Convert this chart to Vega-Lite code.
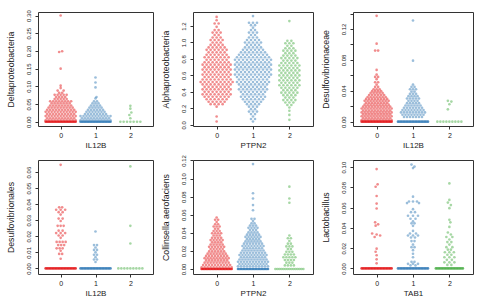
{
  "$schema": "https://vega.github.io/schema/vega-lite/v6.json",
  "padding": {"left": 5, "top": 9, "right": 2, "bottom": 0},
  "background": "white",
  "columns": 3,
  "spacing": {"row": 34, "column": 40},
  "bounds": "flush",
  "config": {
    "font": "Liberation Sans",
    "view": {"stroke": "#333333", "strokeWidth": 1},
    "circle": {"size": 7},
    "axis": {"domain": false, "grid": false, "tickColor": "#333333", "tickSize": 3, "tickWidth": 1, "labelColor": "#222222", "titleColor": "#222222", "labelFont": "Liberation Sans", "titleFont": "Liberation Sans", "titleFontWeight": "normal", "labelFlush": false, "labelOverlap": false},
    "axisX": {"labelFontSize": 7, "titleFontSize": 8, "labelPadding": 2, "titlePadding": 3, "labelAngle": 0},
    "axisY": {"labelFontSize": 6, "titleFontSize": 8.7, "labelAngle": 270, "labelAlign": "center", "labelBaseline": "bottom", "labelPadding": 4, "titlePadding": 10}
  },
  "datasets": {
    "p1": [
      {"g":0,"y":0,"d":-15},{"g":0,"y":0,"d":-13.5},{"g":0,"y":0,"d":-12},{"g":0,"y":0,"d":-10.5},{"g":0,"y":0,"d":-9},{"g":0,"y":0,"d":-7.5},{"g":0,"y":0,"d":-6},{"g":0,"y":0,"d":-4.5},{"g":0,"y":0,"d":-3},{"g":0,"y":0,"d":-1.5},{"g":0,"y":0,"d":0},{"g":0,"y":0,"d":1.5},{"g":0,"y":0,"d":3},{"g":0,"y":0,"d":4.5},{"g":0,"y":0,"d":6},{"g":0,"y":0,"d":7.5},{"g":0,"y":0,"d":9},{"g":0,"y":0,"d":10.5},{"g":0,"y":0,"d":12},{"g":0,"y":0,"d":13.5},{"g":0,"y":0,"d":15},
      {"g":0,"y":0.004,"d":-15},{"g":0,"y":0.004,"d":-12},{"g":0,"y":0.004,"d":-9},{"g":0,"y":0.004,"d":-6},{"g":0,"y":0.004,"d":-3},{"g":0,"y":0.004,"d":0},{"g":0,"y":0.004,"d":3},{"g":0,"y":0.004,"d":6},{"g":0,"y":0.004,"d":9},{"g":0,"y":0.004,"d":12},{"g":0,"y":0.004,"d":15},
      {"g":0,"y":0.01,"d":-13.5},{"g":0,"y":0.01,"d":-10.5},{"g":0,"y":0.01,"d":-7.5},{"g":0,"y":0.01,"d":-4.5},{"g":0,"y":0.01,"d":-1.5},{"g":0,"y":0.01,"d":1.5},{"g":0,"y":0.01,"d":4.5},{"g":0,"y":0.01,"d":7.5},{"g":0,"y":0.01,"d":10.5},{"g":0,"y":0.01,"d":13.5},
      {"g":0,"y":0.016,"d":-15},{"g":0,"y":0.016,"d":-12},{"g":0,"y":0.016,"d":-9},{"g":0,"y":0.016,"d":-6},{"g":0,"y":0.016,"d":-3},{"g":0,"y":0.016,"d":0},{"g":0,"y":0.016,"d":3},{"g":0,"y":0.016,"d":6},{"g":0,"y":0.016,"d":9},{"g":0,"y":0.016,"d":12},{"g":0,"y":0.016,"d":15},
      {"g":0,"y":0.022,"d":-13.5},{"g":0,"y":0.022,"d":-10.5},{"g":0,"y":0.022,"d":-7.5},{"g":0,"y":0.022,"d":-4.5},{"g":0,"y":0.022,"d":-1.5},{"g":0,"y":0.022,"d":1.5},{"g":0,"y":0.022,"d":4.5},{"g":0,"y":0.022,"d":7.5},{"g":0,"y":0.022,"d":10.5},{"g":0,"y":0.022,"d":13.5},
      {"g":0,"y":0.028,"d":-15},{"g":0,"y":0.028,"d":-12},{"g":0,"y":0.028,"d":-9},{"g":0,"y":0.028,"d":-6},{"g":0,"y":0.028,"d":-3},{"g":0,"y":0.028,"d":0},{"g":0,"y":0.028,"d":3},{"g":0,"y":0.028,"d":6},{"g":0,"y":0.028,"d":9},{"g":0,"y":0.028,"d":12},{"g":0,"y":0.028,"d":15},
      {"g":0,"y":0.034,"d":-13.5},{"g":0,"y":0.034,"d":-10.5},{"g":0,"y":0.034,"d":-7.5},{"g":0,"y":0.034,"d":-4.5},{"g":0,"y":0.034,"d":-1.5},{"g":0,"y":0.034,"d":1.5},{"g":0,"y":0.034,"d":4.5},{"g":0,"y":0.034,"d":7.5},{"g":0,"y":0.034,"d":10.5},{"g":0,"y":0.034,"d":13.5},
      {"g":0,"y":0.04,"d":-12},{"g":0,"y":0.04,"d":-9},{"g":0,"y":0.04,"d":-6},{"g":0,"y":0.04,"d":-3},{"g":0,"y":0.04,"d":0},{"g":0,"y":0.04,"d":3},{"g":0,"y":0.04,"d":6},{"g":0,"y":0.04,"d":9},{"g":0,"y":0.04,"d":12},
      {"g":0,"y":0.046,"d":-10.5},{"g":0,"y":0.046,"d":-7.5},{"g":0,"y":0.046,"d":-4.5},{"g":0,"y":0.046,"d":-1.5},{"g":0,"y":0.046,"d":1.5},{"g":0,"y":0.046,"d":4.5},{"g":0,"y":0.046,"d":7.5},{"g":0,"y":0.046,"d":10.5},
      {"g":0,"y":0.052,"d":-9},{"g":0,"y":0.052,"d":-6},{"g":0,"y":0.052,"d":-3},{"g":0,"y":0.052,"d":0},{"g":0,"y":0.052,"d":3},{"g":0,"y":0.052,"d":6},{"g":0,"y":0.052,"d":9},
      {"g":0,"y":0.058,"d":-10.5},{"g":0,"y":0.058,"d":-7.5},{"g":0,"y":0.058,"d":-4.5},{"g":0,"y":0.058,"d":-1.5},{"g":0,"y":0.058,"d":1.5},{"g":0,"y":0.058,"d":4.5},{"g":0,"y":0.058,"d":7.5},{"g":0,"y":0.058,"d":10.5},
      {"g":0,"y":0.064,"d":-6},{"g":0,"y":0.064,"d":-3},{"g":0,"y":0.064,"d":0},{"g":0,"y":0.064,"d":3},{"g":0,"y":0.064,"d":6},
      {"g":0,"y":0.07,"d":-4.5},{"g":0,"y":0.07,"d":-1.5},{"g":0,"y":0.07,"d":1.5},{"g":0,"y":0.07,"d":4.5},
      {"g":0,"y":0.076,"d":-6},{"g":0,"y":0.076,"d":-3},{"g":0,"y":0.076,"d":0},{"g":0,"y":0.076,"d":3},{"g":0,"y":0.076,"d":6},
      {"g":0,"y":0.082,"d":-1.5},{"g":0,"y":0.082,"d":1.5},
      {"g":0,"y":0.088,"d":-3},{"g":0,"y":0.088,"d":3},
      {"g":0,"y":0.095,"d":0},{"g":0,"y":0.102,"d":0},{"g":0,"y":0.15,"d":0},{"g":0,"y":0.197,"d":-1.5},{"g":0,"y":0.199,"d":1.5},{"g":0,"y":0.3,"d":0},
      {"g":1,"y":0,"d":-15},{"g":1,"y":0,"d":-13.5},{"g":1,"y":0,"d":-12},{"g":1,"y":0,"d":-10.5},{"g":1,"y":0,"d":-9},{"g":1,"y":0,"d":-7.5},{"g":1,"y":0,"d":-6},{"g":1,"y":0,"d":-4.5},{"g":1,"y":0,"d":-3},{"g":1,"y":0,"d":-1.5},{"g":1,"y":0,"d":0},{"g":1,"y":0,"d":1.5},{"g":1,"y":0,"d":3},{"g":1,"y":0,"d":4.5},{"g":1,"y":0,"d":6},{"g":1,"y":0,"d":7.5},{"g":1,"y":0,"d":9},{"g":1,"y":0,"d":10.5},{"g":1,"y":0,"d":12},{"g":1,"y":0,"d":13.5},{"g":1,"y":0,"d":15},
      {"g":1,"y":0.004,"d":-15},{"g":1,"y":0.004,"d":-12},{"g":1,"y":0.004,"d":-9},{"g":1,"y":0.004,"d":-6},{"g":1,"y":0.004,"d":-3},{"g":1,"y":0.004,"d":0},{"g":1,"y":0.004,"d":3},{"g":1,"y":0.004,"d":6},{"g":1,"y":0.004,"d":9},{"g":1,"y":0.004,"d":12},{"g":1,"y":0.004,"d":15},
      {"g":1,"y":0.01,"d":-13.5},{"g":1,"y":0.01,"d":-10.5},{"g":1,"y":0.01,"d":-7.5},{"g":1,"y":0.01,"d":-4.5},{"g":1,"y":0.01,"d":-1.5},{"g":1,"y":0.01,"d":1.5},{"g":1,"y":0.01,"d":4.5},{"g":1,"y":0.01,"d":7.5},{"g":1,"y":0.01,"d":10.5},{"g":1,"y":0.01,"d":13.5},
      {"g":1,"y":0.016,"d":-15},{"g":1,"y":0.016,"d":-12},{"g":1,"y":0.016,"d":-9},{"g":1,"y":0.016,"d":-6},{"g":1,"y":0.016,"d":-3},{"g":1,"y":0.016,"d":0},{"g":1,"y":0.016,"d":3},{"g":1,"y":0.016,"d":6},{"g":1,"y":0.016,"d":9},{"g":1,"y":0.016,"d":12},{"g":1,"y":0.016,"d":15},
      {"g":1,"y":0.022,"d":-10.5},{"g":1,"y":0.022,"d":-7.5},{"g":1,"y":0.022,"d":-4.5},{"g":1,"y":0.022,"d":-1.5},{"g":1,"y":0.022,"d":1.5},{"g":1,"y":0.022,"d":4.5},{"g":1,"y":0.022,"d":7.5},{"g":1,"y":0.022,"d":10.5},
      {"g":1,"y":0.028,"d":-9},{"g":1,"y":0.028,"d":-6},{"g":1,"y":0.028,"d":-3},{"g":1,"y":0.028,"d":0},{"g":1,"y":0.028,"d":3},{"g":1,"y":0.028,"d":6},{"g":1,"y":0.028,"d":9},
      {"g":1,"y":0.034,"d":-7.5},{"g":1,"y":0.034,"d":-4.5},{"g":1,"y":0.034,"d":-1.5},{"g":1,"y":0.034,"d":1.5},{"g":1,"y":0.034,"d":4.5},{"g":1,"y":0.034,"d":7.5},
      {"g":1,"y":0.04,"d":-6},{"g":1,"y":0.04,"d":-3},{"g":1,"y":0.04,"d":0},{"g":1,"y":0.04,"d":3},{"g":1,"y":0.04,"d":6},
      {"g":1,"y":0.046,"d":-4.5},{"g":1,"y":0.046,"d":-1.5},{"g":1,"y":0.046,"d":1.5},{"g":1,"y":0.046,"d":4.5},
      {"g":1,"y":0.052,"d":-3},{"g":1,"y":0.052,"d":0},{"g":1,"y":0.052,"d":3},
      {"g":1,"y":0.058,"d":-1.5},{"g":1,"y":0.058,"d":1.5},
      {"g":1,"y":0.066,"d":0},{"g":1,"y":0.07,"d":1},{"g":1,"y":0.097,"d":0},{"g":1,"y":0.111,"d":0},{"g":1,"y":0.125,"d":0},
      {"g":2,"y":0,"d":-10},{"g":2,"y":0,"d":-6.7},{"g":2,"y":0,"d":-3.3},{"g":2,"y":0,"d":0},{"g":2,"y":0,"d":3.3},{"g":2,"y":0,"d":6.7},{"g":2,"y":0,"d":10},
      {"g":2,"y":0.01,"d":0},{"g":2,"y":0.019,"d":-1},{"g":2,"y":0.026,"d":1},{"g":2,"y":0.037,"d":0},{"g":2,"y":0.045,"d":0}
    ],
    "p2": [
      {"g":0,"y":1.31,"d":0},{"g":0,"y":1.27,"d":0},
      {"g":0,"y":1.23,"d":-2},{"g":0,"y":1.23,"d":2},
      {"g":0,"y":1.19,"d":0},
      {"g":0,"y":1.15,"d":-2},{"g":0,"y":1.15,"d":2},
      {"g":0,"y":1.12,"d":-4},{"g":0,"y":1.12,"d":0},{"g":0,"y":1.12,"d":4},
      {"g":0,"y":1.09,"d":-2},{"g":0,"y":1.09,"d":2},
      {"g":0,"y":1.06,"d":-4},{"g":0,"y":1.06,"d":0},{"g":0,"y":1.06,"d":4},
      {"g":0,"y":1.03,"d":-6},{"g":0,"y":1.03,"d":-2},{"g":0,"y":1.03,"d":2},{"g":0,"y":1.03,"d":6},
      {"g":0,"y":1.0,"d":-4},{"g":0,"y":1.0,"d":0},{"g":0,"y":1.0,"d":4},
      {"g":0,"y":0.97,"d":-6},{"g":0,"y":0.97,"d":-2},{"g":0,"y":0.97,"d":2},{"g":0,"y":0.97,"d":6},
      {"g":0,"y":0.94,"d":-8},{"g":0,"y":0.94,"d":-4},{"g":0,"y":0.94,"d":0},{"g":0,"y":0.94,"d":4},{"g":0,"y":0.94,"d":8},
      {"g":0,"y":0.91,"d":-10},{"g":0,"y":0.91,"d":-6},{"g":0,"y":0.91,"d":-2},{"g":0,"y":0.91,"d":2},{"g":0,"y":0.91,"d":6},{"g":0,"y":0.91,"d":10},
      {"g":0,"y":0.88,"d":-8},{"g":0,"y":0.88,"d":-4},{"g":0,"y":0.88,"d":0},{"g":0,"y":0.88,"d":4},{"g":0,"y":0.88,"d":8},
      {"g":0,"y":0.85,"d":-10},{"g":0,"y":0.85,"d":-6},{"g":0,"y":0.85,"d":-2},{"g":0,"y":0.85,"d":2},{"g":0,"y":0.85,"d":6},{"g":0,"y":0.85,"d":10},
      {"g":0,"y":0.82,"d":-12},{"g":0,"y":0.82,"d":-8},{"g":0,"y":0.82,"d":-4},{"g":0,"y":0.82,"d":0},{"g":0,"y":0.82,"d":4},{"g":0,"y":0.82,"d":8},{"g":0,"y":0.82,"d":12},
      {"g":0,"y":0.79,"d":-10},{"g":0,"y":0.79,"d":-6},{"g":0,"y":0.79,"d":-2},{"g":0,"y":0.79,"d":2},{"g":0,"y":0.79,"d":6},{"g":0,"y":0.79,"d":10},
      {"g":0,"y":0.76,"d":-12},{"g":0,"y":0.76,"d":-8},{"g":0,"y":0.76,"d":-4},{"g":0,"y":0.76,"d":0},{"g":0,"y":0.76,"d":4},{"g":0,"y":0.76,"d":8},{"g":0,"y":0.76,"d":12},
      {"g":0,"y":0.73,"d":-14},{"g":0,"y":0.73,"d":-10},{"g":0,"y":0.73,"d":-6},{"g":0,"y":0.73,"d":-2},{"g":0,"y":0.73,"d":2},{"g":0,"y":0.73,"d":6},{"g":0,"y":0.73,"d":10},{"g":0,"y":0.73,"d":14},
      {"g":0,"y":0.7,"d":-12},{"g":0,"y":0.7,"d":-8},{"g":0,"y":0.7,"d":-4},{"g":0,"y":0.7,"d":0},{"g":0,"y":0.7,"d":4},{"g":0,"y":0.7,"d":8},{"g":0,"y":0.7,"d":12},
      {"g":0,"y":0.67,"d":-14},{"g":0,"y":0.67,"d":-10},{"g":0,"y":0.67,"d":-6},{"g":0,"y":0.67,"d":-2},{"g":0,"y":0.67,"d":2},{"g":0,"y":0.67,"d":6},{"g":0,"y":0.67,"d":10},{"g":0,"y":0.67,"d":14},
      {"g":0,"y":0.64,"d":-12},{"g":0,"y":0.64,"d":-8},{"g":0,"y":0.64,"d":-4},{"g":0,"y":0.64,"d":0},{"g":0,"y":0.64,"d":4},{"g":0,"y":0.64,"d":8},{"g":0,"y":0.64,"d":12},
      {"g":0,"y":0.61,"d":-14},{"g":0,"y":0.61,"d":-10},{"g":0,"y":0.61,"d":-6},{"g":0,"y":0.61,"d":-2},{"g":0,"y":0.61,"d":2},{"g":0,"y":0.61,"d":6},{"g":0,"y":0.61,"d":10},{"g":0,"y":0.61,"d":14},
      {"g":0,"y":0.58,"d":-12},{"g":0,"y":0.58,"d":-8},{"g":0,"y":0.58,"d":-4},{"g":0,"y":0.58,"d":0},{"g":0,"y":0.58,"d":4},{"g":0,"y":0.58,"d":8},{"g":0,"y":0.58,"d":12},
      {"g":0,"y":0.55,"d":-14},{"g":0,"y":0.55,"d":-10},{"g":0,"y":0.55,"d":-6},{"g":0,"y":0.55,"d":-2},{"g":0,"y":0.55,"d":2},{"g":0,"y":0.55,"d":6},{"g":0,"y":0.55,"d":10},{"g":0,"y":0.55,"d":14},
      {"g":0,"y":0.52,"d":-16},{"g":0,"y":0.52,"d":-12},{"g":0,"y":0.52,"d":-8},{"g":0,"y":0.52,"d":-4},{"g":0,"y":0.52,"d":0},{"g":0,"y":0.52,"d":4},{"g":0,"y":0.52,"d":8},{"g":0,"y":0.52,"d":12},{"g":0,"y":0.52,"d":16},
      {"g":0,"y":0.49,"d":-14},{"g":0,"y":0.49,"d":-10},{"g":0,"y":0.49,"d":-6},{"g":0,"y":0.49,"d":-2},{"g":0,"y":0.49,"d":2},{"g":0,"y":0.49,"d":6},{"g":0,"y":0.49,"d":10},{"g":0,"y":0.49,"d":14},
      {"g":0,"y":0.46,"d":-12},{"g":0,"y":0.46,"d":-8},{"g":0,"y":0.46,"d":-4},{"g":0,"y":0.46,"d":0},{"g":0,"y":0.46,"d":4},{"g":0,"y":0.46,"d":8},{"g":0,"y":0.46,"d":12},
      {"g":0,"y":0.43,"d":-14},{"g":0,"y":0.43,"d":-10},{"g":0,"y":0.43,"d":-6},{"g":0,"y":0.43,"d":-2},{"g":0,"y":0.43,"d":2},{"g":0,"y":0.43,"d":6},{"g":0,"y":0.43,"d":10},{"g":0,"y":0.43,"d":14},
      {"g":0,"y":0.4,"d":-12},{"g":0,"y":0.4,"d":-8},{"g":0,"y":0.4,"d":-4},{"g":0,"y":0.4,"d":0},{"g":0,"y":0.4,"d":4},{"g":0,"y":0.4,"d":8},{"g":0,"y":0.4,"d":12},
      {"g":0,"y":0.37,"d":-14},{"g":0,"y":0.37,"d":-10},{"g":0,"y":0.37,"d":-6},{"g":0,"y":0.37,"d":-2},{"g":0,"y":0.37,"d":2},{"g":0,"y":0.37,"d":6},{"g":0,"y":0.37,"d":10},{"g":0,"y":0.37,"d":14},
      {"g":0,"y":0.34,"d":-12},{"g":0,"y":0.34,"d":-8},{"g":0,"y":0.34,"d":-4},{"g":0,"y":0.34,"d":0},{"g":0,"y":0.34,"d":4},{"g":0,"y":0.34,"d":8},{"g":0,"y":0.34,"d":12},
      {"g":0,"y":0.31,"d":-10},{"g":0,"y":0.31,"d":-6},{"g":0,"y":0.31,"d":-2},{"g":0,"y":0.31,"d":2},{"g":0,"y":0.31,"d":6},{"g":0,"y":0.31,"d":10},
      {"g":0,"y":0.28,"d":-8},{"g":0,"y":0.28,"d":-4},{"g":0,"y":0.28,"d":0},{"g":0,"y":0.28,"d":4},{"g":0,"y":0.28,"d":8},
      {"g":0,"y":0.25,"d":-6},{"g":0,"y":0.25,"d":-2},{"g":0,"y":0.25,"d":2},{"g":0,"y":0.25,"d":6},
      {"g":0,"y":0.22,"d":0},{"g":0,"y":0.1,"d":0},{"g":0,"y":0.04,"d":0},
      {"g":1,"y":1.32,"d":0},
      {"g":1,"y":1.24,"d":-4},{"g":1,"y":1.24,"d":0},{"g":1,"y":1.24,"d":4},
      {"g":1,"y":1.21,"d":-2},{"g":1,"y":1.21,"d":2},
      {"g":1,"y":1.18,"d":0},
      {"g":1,"y":1.15,"d":-2},{"g":1,"y":1.15,"d":2},
      {"g":1,"y":1.12,"d":-4},{"g":1,"y":1.12,"d":0},{"g":1,"y":1.12,"d":4},
      {"g":1,"y":1.09,"d":-2},{"g":1,"y":1.09,"d":2},
      {"g":1,"y":1.06,"d":-4},{"g":1,"y":1.06,"d":0},{"g":1,"y":1.06,"d":4},
      {"g":1,"y":1.03,"d":-6},{"g":1,"y":1.03,"d":-2},{"g":1,"y":1.03,"d":2},{"g":1,"y":1.03,"d":6},
      {"g":1,"y":1.0,"d":-8},{"g":1,"y":1.0,"d":-4},{"g":1,"y":1.0,"d":0},{"g":1,"y":1.0,"d":4},{"g":1,"y":1.0,"d":8},
      {"g":1,"y":0.97,"d":-6},{"g":1,"y":0.97,"d":-2},{"g":1,"y":0.97,"d":2},{"g":1,"y":0.97,"d":6},
      {"g":1,"y":0.94,"d":-8},{"g":1,"y":0.94,"d":-4},{"g":1,"y":0.94,"d":0},{"g":1,"y":0.94,"d":4},{"g":1,"y":0.94,"d":8},
      {"g":1,"y":0.91,"d":-10},{"g":1,"y":0.91,"d":-6},{"g":1,"y":0.91,"d":-2},{"g":1,"y":0.91,"d":2},{"g":1,"y":0.91,"d":6},{"g":1,"y":0.91,"d":10},
      {"g":1,"y":0.88,"d":-12},{"g":1,"y":0.88,"d":-8},{"g":1,"y":0.88,"d":-4},{"g":1,"y":0.88,"d":0},{"g":1,"y":0.88,"d":4},{"g":1,"y":0.88,"d":8},{"g":1,"y":0.88,"d":12},
      {"g":1,"y":0.85,"d":-14},{"g":1,"y":0.85,"d":-10},{"g":1,"y":0.85,"d":-6},{"g":1,"y":0.85,"d":-2},{"g":1,"y":0.85,"d":2},{"g":1,"y":0.85,"d":6},{"g":1,"y":0.85,"d":10},{"g":1,"y":0.85,"d":14},
      {"g":1,"y":0.82,"d":-16},{"g":1,"y":0.82,"d":-12},{"g":1,"y":0.82,"d":-8},{"g":1,"y":0.82,"d":-4},{"g":1,"y":0.82,"d":0},{"g":1,"y":0.82,"d":4},{"g":1,"y":0.82,"d":8},{"g":1,"y":0.82,"d":12},{"g":1,"y":0.82,"d":16},
      {"g":1,"y":0.79,"d":-18},{"g":1,"y":0.79,"d":-14},{"g":1,"y":0.79,"d":-10},{"g":1,"y":0.79,"d":-6},{"g":1,"y":0.79,"d":-2},{"g":1,"y":0.79,"d":2},{"g":1,"y":0.79,"d":6},{"g":1,"y":0.79,"d":10},{"g":1,"y":0.79,"d":14},{"g":1,"y":0.79,"d":18},
      {"g":1,"y":0.76,"d":-16},{"g":1,"y":0.76,"d":-12},{"g":1,"y":0.76,"d":-8},{"g":1,"y":0.76,"d":-4},{"g":1,"y":0.76,"d":0},{"g":1,"y":0.76,"d":4},{"g":1,"y":0.76,"d":8},{"g":1,"y":0.76,"d":12},{"g":1,"y":0.76,"d":16},
      {"g":1,"y":0.73,"d":-18},{"g":1,"y":0.73,"d":-14},{"g":1,"y":0.73,"d":-10},{"g":1,"y":0.73,"d":-6},{"g":1,"y":0.73,"d":-2},{"g":1,"y":0.73,"d":2},{"g":1,"y":0.73,"d":6},{"g":1,"y":0.73,"d":10},{"g":1,"y":0.73,"d":14},{"g":1,"y":0.73,"d":18},
      {"g":1,"y":0.7,"d":-16},{"g":1,"y":0.7,"d":-12},{"g":1,"y":0.7,"d":-8},{"g":1,"y":0.7,"d":-4},{"g":1,"y":0.7,"d":0},{"g":1,"y":0.7,"d":4},{"g":1,"y":0.7,"d":8},{"g":1,"y":0.7,"d":12},{"g":1,"y":0.7,"d":16},
      {"g":1,"y":0.67,"d":-18},{"g":1,"y":0.67,"d":-14},{"g":1,"y":0.67,"d":-10},{"g":1,"y":0.67,"d":-6},{"g":1,"y":0.67,"d":-2},{"g":1,"y":0.67,"d":2},{"g":1,"y":0.67,"d":6},{"g":1,"y":0.67,"d":10},{"g":1,"y":0.67,"d":14},{"g":1,"y":0.67,"d":18},
      {"g":1,"y":0.64,"d":-16},{"g":1,"y":0.64,"d":-12},{"g":1,"y":0.64,"d":-8},{"g":1,"y":0.64,"d":-4},{"g":1,"y":0.64,"d":0},{"g":1,"y":0.64,"d":4},{"g":1,"y":0.64,"d":8},{"g":1,"y":0.64,"d":12},{"g":1,"y":0.64,"d":16},
      {"g":1,"y":0.61,"d":-18},{"g":1,"y":0.61,"d":-14},{"g":1,"y":0.61,"d":-10},{"g":1,"y":0.61,"d":-6},{"g":1,"y":0.61,"d":-2},{"g":1,"y":0.61,"d":2},{"g":1,"y":0.61,"d":6},{"g":1,"y":0.61,"d":10},{"g":1,"y":0.61,"d":14},{"g":1,"y":0.61,"d":18},
      {"g":1,"y":0.58,"d":-16},{"g":1,"y":0.58,"d":-12},{"g":1,"y":0.58,"d":-8},{"g":1,"y":0.58,"d":-4},{"g":1,"y":0.58,"d":0},{"g":1,"y":0.58,"d":4},{"g":1,"y":0.58,"d":8},{"g":1,"y":0.58,"d":12},{"g":1,"y":0.58,"d":16},
      {"g":1,"y":0.55,"d":-14},{"g":1,"y":0.55,"d":-10},{"g":1,"y":0.55,"d":-6},{"g":1,"y":0.55,"d":-2},{"g":1,"y":0.55,"d":2},{"g":1,"y":0.55,"d":6},{"g":1,"y":0.55,"d":10},{"g":1,"y":0.55,"d":14},
      {"g":1,"y":0.52,"d":-16},{"g":1,"y":0.52,"d":-12},{"g":1,"y":0.52,"d":-8},{"g":1,"y":0.52,"d":-4},{"g":1,"y":0.52,"d":0},{"g":1,"y":0.52,"d":4},{"g":1,"y":0.52,"d":8},{"g":1,"y":0.52,"d":12},{"g":1,"y":0.52,"d":16},
      {"g":1,"y":0.49,"d":-14},{"g":1,"y":0.49,"d":-10},{"g":1,"y":0.49,"d":-6},{"g":1,"y":0.49,"d":-2},{"g":1,"y":0.49,"d":2},{"g":1,"y":0.49,"d":6},{"g":1,"y":0.49,"d":10},{"g":1,"y":0.49,"d":14},
      {"g":1,"y":0.46,"d":-12},{"g":1,"y":0.46,"d":-8},{"g":1,"y":0.46,"d":-4},{"g":1,"y":0.46,"d":0},{"g":1,"y":0.46,"d":4},{"g":1,"y":0.46,"d":8},{"g":1,"y":0.46,"d":12},
      {"g":1,"y":0.43,"d":-14},{"g":1,"y":0.43,"d":-10},{"g":1,"y":0.43,"d":-6},{"g":1,"y":0.43,"d":-2},{"g":1,"y":0.43,"d":2},{"g":1,"y":0.43,"d":6},{"g":1,"y":0.43,"d":10},{"g":1,"y":0.43,"d":14},
      {"g":1,"y":0.4,"d":-12},{"g":1,"y":0.4,"d":-8},{"g":1,"y":0.4,"d":-4},{"g":1,"y":0.4,"d":0},{"g":1,"y":0.4,"d":4},{"g":1,"y":0.4,"d":8},{"g":1,"y":0.4,"d":12},
      {"g":1,"y":0.37,"d":-10},{"g":1,"y":0.37,"d":-6},{"g":1,"y":0.37,"d":-2},{"g":1,"y":0.37,"d":2},{"g":1,"y":0.37,"d":6},{"g":1,"y":0.37,"d":10},
      {"g":1,"y":0.34,"d":-12},{"g":1,"y":0.34,"d":-8},{"g":1,"y":0.34,"d":-4},{"g":1,"y":0.34,"d":0},{"g":1,"y":0.34,"d":4},{"g":1,"y":0.34,"d":8},{"g":1,"y":0.34,"d":12},
      {"g":1,"y":0.31,"d":-10},{"g":1,"y":0.31,"d":-6},{"g":1,"y":0.31,"d":-2},{"g":1,"y":0.31,"d":2},{"g":1,"y":0.31,"d":6},{"g":1,"y":0.31,"d":10},
      {"g":1,"y":0.28,"d":-8},{"g":1,"y":0.28,"d":-4},{"g":1,"y":0.28,"d":0},{"g":1,"y":0.28,"d":4},{"g":1,"y":0.28,"d":8},
      {"g":1,"y":0.25,"d":-6},{"g":1,"y":0.25,"d":-2},{"g":1,"y":0.25,"d":2},{"g":1,"y":0.25,"d":6},
      {"g":1,"y":0.22,"d":-4},{"g":1,"y":0.22,"d":0},{"g":1,"y":0.22,"d":4},
      {"g":1,"y":0.19,"d":-2},{"g":1,"y":0.19,"d":2},
      {"g":1,"y":0.16,"d":-4},{"g":1,"y":0.16,"d":0},{"g":1,"y":0.16,"d":4},
      {"g":1,"y":0.13,"d":-2},{"g":1,"y":0.13,"d":2},
      {"g":1,"y":0.1,"d":0},
      {"g":1,"y":0.07,"d":-2},{"g":1,"y":0.07,"d":2},
      {"g":1,"y":0.04,"d":0},
      {"g":2,"y":1.26,"d":0},
      {"g":2,"y":1.02,"d":-2},{"g":2,"y":1.02,"d":2},
      {"g":2,"y":0.99,"d":-4},{"g":2,"y":0.99,"d":0},{"g":2,"y":0.99,"d":4},
      {"g":2,"y":0.96,"d":-2},{"g":2,"y":0.96,"d":2},
      {"g":2,"y":0.93,"d":-4},{"g":2,"y":0.93,"d":0},{"g":2,"y":0.93,"d":4},
      {"g":2,"y":0.9,"d":-6},{"g":2,"y":0.9,"d":-2},{"g":2,"y":0.9,"d":2},{"g":2,"y":0.9,"d":6},
      {"g":2,"y":0.87,"d":-4},{"g":2,"y":0.87,"d":0},{"g":2,"y":0.87,"d":4},
      {"g":2,"y":0.84,"d":-6},{"g":2,"y":0.84,"d":-2},{"g":2,"y":0.84,"d":2},{"g":2,"y":0.84,"d":6},
      {"g":2,"y":0.81,"d":-8},{"g":2,"y":0.81,"d":-4},{"g":2,"y":0.81,"d":0},{"g":2,"y":0.81,"d":4},{"g":2,"y":0.81,"d":8},
      {"g":2,"y":0.78,"d":-6},{"g":2,"y":0.78,"d":-2},{"g":2,"y":0.78,"d":2},{"g":2,"y":0.78,"d":6},
      {"g":2,"y":0.75,"d":-8},{"g":2,"y":0.75,"d":-4},{"g":2,"y":0.75,"d":0},{"g":2,"y":0.75,"d":4},{"g":2,"y":0.75,"d":8},
      {"g":2,"y":0.72,"d":-10},{"g":2,"y":0.72,"d":-6},{"g":2,"y":0.72,"d":-2},{"g":2,"y":0.72,"d":2},{"g":2,"y":0.72,"d":6},{"g":2,"y":0.72,"d":10},
      {"g":2,"y":0.69,"d":-8},{"g":2,"y":0.69,"d":-4},{"g":2,"y":0.69,"d":0},{"g":2,"y":0.69,"d":4},{"g":2,"y":0.69,"d":8},
      {"g":2,"y":0.66,"d":-10},{"g":2,"y":0.66,"d":-6},{"g":2,"y":0.66,"d":-2},{"g":2,"y":0.66,"d":2},{"g":2,"y":0.66,"d":6},{"g":2,"y":0.66,"d":10},
      {"g":2,"y":0.63,"d":-8},{"g":2,"y":0.63,"d":-4},{"g":2,"y":0.63,"d":0},{"g":2,"y":0.63,"d":4},{"g":2,"y":0.63,"d":8},
      {"g":2,"y":0.6,"d":-10},{"g":2,"y":0.6,"d":-6},{"g":2,"y":0.6,"d":-2},{"g":2,"y":0.6,"d":2},{"g":2,"y":0.6,"d":6},{"g":2,"y":0.6,"d":10},
      {"g":2,"y":0.57,"d":-8},{"g":2,"y":0.57,"d":-4},{"g":2,"y":0.57,"d":0},{"g":2,"y":0.57,"d":4},{"g":2,"y":0.57,"d":8},
      {"g":2,"y":0.54,"d":-10},{"g":2,"y":0.54,"d":-6},{"g":2,"y":0.54,"d":-2},{"g":2,"y":0.54,"d":2},{"g":2,"y":0.54,"d":6},{"g":2,"y":0.54,"d":10},
      {"g":2,"y":0.51,"d":-8},{"g":2,"y":0.51,"d":-4},{"g":2,"y":0.51,"d":0},{"g":2,"y":0.51,"d":4},{"g":2,"y":0.51,"d":8},
      {"g":2,"y":0.48,"d":-10},{"g":2,"y":0.48,"d":-6},{"g":2,"y":0.48,"d":-2},{"g":2,"y":0.48,"d":2},{"g":2,"y":0.48,"d":6},{"g":2,"y":0.48,"d":10},
      {"g":2,"y":0.45,"d":-8},{"g":2,"y":0.45,"d":-4},{"g":2,"y":0.45,"d":0},{"g":2,"y":0.45,"d":4},{"g":2,"y":0.45,"d":8},
      {"g":2,"y":0.42,"d":-6},{"g":2,"y":0.42,"d":-2},{"g":2,"y":0.42,"d":2},{"g":2,"y":0.42,"d":6},
      {"g":2,"y":0.39,"d":-8},{"g":2,"y":0.39,"d":-4},{"g":2,"y":0.39,"d":0},{"g":2,"y":0.39,"d":4},{"g":2,"y":0.39,"d":8},
      {"g":2,"y":0.36,"d":-6},{"g":2,"y":0.36,"d":-2},{"g":2,"y":0.36,"d":2},{"g":2,"y":0.36,"d":6},
      {"g":2,"y":0.33,"d":-4},{"g":2,"y":0.33,"d":0},{"g":2,"y":0.33,"d":4},
      {"g":2,"y":0.3,"d":-6},{"g":2,"y":0.3,"d":-2},{"g":2,"y":0.3,"d":2},{"g":2,"y":0.3,"d":6},
      {"g":2,"y":0.27,"d":-4},{"g":2,"y":0.27,"d":0},{"g":2,"y":0.27,"d":4},
      {"g":2,"y":0.24,"d":-2},{"g":2,"y":0.24,"d":2},
      {"g":2,"y":0.21,"d":0},{"g":2,"y":0.17,"d":0},{"g":2,"y":0.12,"d":0},{"g":2,"y":0.06,"d":0}
    ],
    "p3": [
      {"g":0,"y":0,"d":-15},{"g":0,"y":0,"d":-13.5},{"g":0,"y":0,"d":-12},{"g":0,"y":0,"d":-10.5},{"g":0,"y":0,"d":-9},{"g":0,"y":0,"d":-7.5},{"g":0,"y":0,"d":-6},{"g":0,"y":0,"d":-4.5},{"g":0,"y":0,"d":-3},{"g":0,"y":0,"d":-1.5},{"g":0,"y":0,"d":0},{"g":0,"y":0,"d":1.5},{"g":0,"y":0,"d":3},{"g":0,"y":0,"d":4.5},{"g":0,"y":0,"d":6},{"g":0,"y":0,"d":7.5},{"g":0,"y":0,"d":9},{"g":0,"y":0,"d":10.5},{"g":0,"y":0,"d":12},{"g":0,"y":0,"d":13.5},{"g":0,"y":0,"d":15},
      {"g":0,"y":0.002,"d":-15},{"g":0,"y":0.002,"d":-12},{"g":0,"y":0.002,"d":-9},{"g":0,"y":0.002,"d":-6},{"g":0,"y":0.002,"d":-3},{"g":0,"y":0.002,"d":0},{"g":0,"y":0.002,"d":3},{"g":0,"y":0.002,"d":6},{"g":0,"y":0.002,"d":9},{"g":0,"y":0.002,"d":12},{"g":0,"y":0.002,"d":15},
      {"g":0,"y":0.0045,"d":-13.5},{"g":0,"y":0.0045,"d":-10.5},{"g":0,"y":0.0045,"d":-7.5},{"g":0,"y":0.0045,"d":-4.5},{"g":0,"y":0.0045,"d":-1.5},{"g":0,"y":0.0045,"d":1.5},{"g":0,"y":0.0045,"d":4.5},{"g":0,"y":0.0045,"d":7.5},{"g":0,"y":0.0045,"d":10.5},{"g":0,"y":0.0045,"d":13.5},
      {"g":0,"y":0.007,"d":-15},{"g":0,"y":0.007,"d":-12},{"g":0,"y":0.007,"d":-9},{"g":0,"y":0.007,"d":-6},{"g":0,"y":0.007,"d":-3},{"g":0,"y":0.007,"d":0},{"g":0,"y":0.007,"d":3},{"g":0,"y":0.007,"d":6},{"g":0,"y":0.007,"d":9},{"g":0,"y":0.007,"d":12},{"g":0,"y":0.007,"d":15},
      {"g":0,"y":0.0095,"d":-13.5},{"g":0,"y":0.0095,"d":-10.5},{"g":0,"y":0.0095,"d":-7.5},{"g":0,"y":0.0095,"d":-4.5},{"g":0,"y":0.0095,"d":-1.5},{"g":0,"y":0.0095,"d":1.5},{"g":0,"y":0.0095,"d":4.5},{"g":0,"y":0.0095,"d":7.5},{"g":0,"y":0.0095,"d":10.5},{"g":0,"y":0.0095,"d":13.5},
      {"g":0,"y":0.012,"d":-15},{"g":0,"y":0.012,"d":-12},{"g":0,"y":0.012,"d":-9},{"g":0,"y":0.012,"d":-6},{"g":0,"y":0.012,"d":-3},{"g":0,"y":0.012,"d":0},{"g":0,"y":0.012,"d":3},{"g":0,"y":0.012,"d":6},{"g":0,"y":0.012,"d":9},{"g":0,"y":0.012,"d":12},{"g":0,"y":0.012,"d":15},
      {"g":0,"y":0.0145,"d":-13.5},{"g":0,"y":0.0145,"d":-10.5},{"g":0,"y":0.0145,"d":-7.5},{"g":0,"y":0.0145,"d":-4.5},{"g":0,"y":0.0145,"d":-1.5},{"g":0,"y":0.0145,"d":1.5},{"g":0,"y":0.0145,"d":4.5},{"g":0,"y":0.0145,"d":7.5},{"g":0,"y":0.0145,"d":10.5},{"g":0,"y":0.0145,"d":13.5},
      {"g":0,"y":0.017,"d":-15},{"g":0,"y":0.017,"d":-12},{"g":0,"y":0.017,"d":-9},{"g":0,"y":0.017,"d":-6},{"g":0,"y":0.017,"d":-3},{"g":0,"y":0.017,"d":0},{"g":0,"y":0.017,"d":3},{"g":0,"y":0.017,"d":6},{"g":0,"y":0.017,"d":9},{"g":0,"y":0.017,"d":12},{"g":0,"y":0.017,"d":15},
      {"g":0,"y":0.0195,"d":-13.5},{"g":0,"y":0.0195,"d":-10.5},{"g":0,"y":0.0195,"d":-7.5},{"g":0,"y":0.0195,"d":-4.5},{"g":0,"y":0.0195,"d":-1.5},{"g":0,"y":0.0195,"d":1.5},{"g":0,"y":0.0195,"d":4.5},{"g":0,"y":0.0195,"d":7.5},{"g":0,"y":0.0195,"d":10.5},{"g":0,"y":0.0195,"d":13.5},
      {"g":0,"y":0.022,"d":-12},{"g":0,"y":0.022,"d":-9},{"g":0,"y":0.022,"d":-6},{"g":0,"y":0.022,"d":-3},{"g":0,"y":0.022,"d":0},{"g":0,"y":0.022,"d":3},{"g":0,"y":0.022,"d":6},{"g":0,"y":0.022,"d":9},{"g":0,"y":0.022,"d":12},
      {"g":0,"y":0.0245,"d":-10.5},{"g":0,"y":0.0245,"d":-7.5},{"g":0,"y":0.0245,"d":-4.5},{"g":0,"y":0.0245,"d":-1.5},{"g":0,"y":0.0245,"d":1.5},{"g":0,"y":0.0245,"d":4.5},{"g":0,"y":0.0245,"d":7.5},{"g":0,"y":0.0245,"d":10.5},
      {"g":0,"y":0.027,"d":-12},{"g":0,"y":0.027,"d":-9},{"g":0,"y":0.027,"d":-6},{"g":0,"y":0.027,"d":-3},{"g":0,"y":0.027,"d":0},{"g":0,"y":0.027,"d":3},{"g":0,"y":0.027,"d":6},{"g":0,"y":0.027,"d":9},{"g":0,"y":0.027,"d":12},
      {"g":0,"y":0.0295,"d":-10.5},{"g":0,"y":0.0295,"d":-7.5},{"g":0,"y":0.0295,"d":-4.5},{"g":0,"y":0.0295,"d":-1.5},{"g":0,"y":0.0295,"d":1.5},{"g":0,"y":0.0295,"d":4.5},{"g":0,"y":0.0295,"d":7.5},{"g":0,"y":0.0295,"d":10.5},
      {"g":0,"y":0.032,"d":-9},{"g":0,"y":0.032,"d":-6},{"g":0,"y":0.032,"d":-3},{"g":0,"y":0.032,"d":0},{"g":0,"y":0.032,"d":3},{"g":0,"y":0.032,"d":6},{"g":0,"y":0.032,"d":9},
      {"g":0,"y":0.0345,"d":-7.5},{"g":0,"y":0.0345,"d":-4.5},{"g":0,"y":0.0345,"d":-1.5},{"g":0,"y":0.0345,"d":1.5},{"g":0,"y":0.0345,"d":4.5},{"g":0,"y":0.0345,"d":7.5},
      {"g":0,"y":0.037,"d":-6},{"g":0,"y":0.037,"d":-3},{"g":0,"y":0.037,"d":0},{"g":0,"y":0.037,"d":3},{"g":0,"y":0.037,"d":6},
      {"g":0,"y":0.0395,"d":-4.5},{"g":0,"y":0.0395,"d":-1.5},{"g":0,"y":0.0395,"d":1.5},{"g":0,"y":0.0395,"d":4.5},
      {"g":0,"y":0.042,"d":-3},{"g":0,"y":0.042,"d":0},{"g":0,"y":0.042,"d":3},
      {"g":0,"y":0.045,"d":-1.5},{"g":0,"y":0.045,"d":1.5},
      {"g":0,"y":0.048,"d":0},
      {"g":0,"y":0.051,"d":-1.5},{"g":0,"y":0.051,"d":1.5},
      {"g":0,"y":0.055,"d":0},
      {"g":0,"y":0.058,"d":-1.5},{"g":0,"y":0.058,"d":1.5},
      {"g":0,"y":0.061,"d":0},{"g":0,"y":0.067,"d":0},
      {"g":0,"y":0.092,"d":-1.5},{"g":0,"y":0.092,"d":1.5},
      {"g":0,"y":0.101,"d":0},{"g":0,"y":0.137,"d":0},
      {"g":1,"y":0,"d":-15},{"g":1,"y":0,"d":-13.5},{"g":1,"y":0,"d":-12},{"g":1,"y":0,"d":-10.5},{"g":1,"y":0,"d":-9},{"g":1,"y":0,"d":-7.5},{"g":1,"y":0,"d":-6},{"g":1,"y":0,"d":-4.5},{"g":1,"y":0,"d":-3},{"g":1,"y":0,"d":-1.5},{"g":1,"y":0,"d":0},{"g":1,"y":0,"d":1.5},{"g":1,"y":0,"d":3},{"g":1,"y":0,"d":4.5},{"g":1,"y":0,"d":6},{"g":1,"y":0,"d":7.5},{"g":1,"y":0,"d":9},{"g":1,"y":0,"d":10.5},{"g":1,"y":0,"d":12},{"g":1,"y":0,"d":13.5},{"g":1,"y":0,"d":15},
      {"g":1,"y":0.006,"d":-9},{"g":1,"y":0.006,"d":-6},{"g":1,"y":0.006,"d":-3},{"g":1,"y":0.006,"d":0},{"g":1,"y":0.006,"d":3},{"g":1,"y":0.006,"d":6},{"g":1,"y":0.006,"d":9},
      {"g":1,"y":0.009,"d":-10.5},{"g":1,"y":0.009,"d":-7.5},{"g":1,"y":0.009,"d":-4.5},{"g":1,"y":0.009,"d":-1.5},{"g":1,"y":0.009,"d":1.5},{"g":1,"y":0.009,"d":4.5},{"g":1,"y":0.009,"d":7.5},{"g":1,"y":0.009,"d":10.5},
      {"g":1,"y":0.012,"d":-12},{"g":1,"y":0.012,"d":-9},{"g":1,"y":0.012,"d":-6},{"g":1,"y":0.012,"d":-3},{"g":1,"y":0.012,"d":0},{"g":1,"y":0.012,"d":3},{"g":1,"y":0.012,"d":6},{"g":1,"y":0.012,"d":9},{"g":1,"y":0.012,"d":12},
      {"g":1,"y":0.015,"d":-10.5},{"g":1,"y":0.015,"d":-7.5},{"g":1,"y":0.015,"d":-4.5},{"g":1,"y":0.015,"d":-1.5},{"g":1,"y":0.015,"d":1.5},{"g":1,"y":0.015,"d":4.5},{"g":1,"y":0.015,"d":7.5},{"g":1,"y":0.015,"d":10.5},
      {"g":1,"y":0.018,"d":-9},{"g":1,"y":0.018,"d":-6},{"g":1,"y":0.018,"d":-3},{"g":1,"y":0.018,"d":0},{"g":1,"y":0.018,"d":3},{"g":1,"y":0.018,"d":6},{"g":1,"y":0.018,"d":9},
      {"g":1,"y":0.021,"d":-7.5},{"g":1,"y":0.021,"d":-4.5},{"g":1,"y":0.021,"d":-1.5},{"g":1,"y":0.021,"d":1.5},{"g":1,"y":0.021,"d":4.5},{"g":1,"y":0.021,"d":7.5},
      {"g":1,"y":0.024,"d":-6},{"g":1,"y":0.024,"d":-3},{"g":1,"y":0.024,"d":0},{"g":1,"y":0.024,"d":3},{"g":1,"y":0.024,"d":6},
      {"g":1,"y":0.027,"d":-4.5},{"g":1,"y":0.027,"d":-1.5},{"g":1,"y":0.027,"d":1.5},{"g":1,"y":0.027,"d":4.5},
      {"g":1,"y":0.03,"d":-6},{"g":1,"y":0.03,"d":-3},{"g":1,"y":0.03,"d":0},{"g":1,"y":0.03,"d":3},{"g":1,"y":0.03,"d":6},
      {"g":1,"y":0.033,"d":-4.5},{"g":1,"y":0.033,"d":-1.5},{"g":1,"y":0.033,"d":1.5},{"g":1,"y":0.033,"d":4.5},
      {"g":1,"y":0.036,"d":-3},{"g":1,"y":0.036,"d":0},{"g":1,"y":0.036,"d":3},
      {"g":1,"y":0.039,"d":-1.5},{"g":1,"y":0.039,"d":1.5},
      {"g":1,"y":0.042,"d":-3},{"g":1,"y":0.042,"d":0},{"g":1,"y":0.042,"d":3},
      {"g":1,"y":0.045,"d":-1.5},{"g":1,"y":0.045,"d":1.5},
      {"g":1,"y":0.048,"d":0},{"g":1,"y":0.079,"d":0},{"g":1,"y":0.131,"d":0},
      {"g":2,"y":0,"d":-12},{"g":2,"y":0,"d":-9},{"g":2,"y":0,"d":-6},{"g":2,"y":0,"d":-3},{"g":2,"y":0,"d":0},{"g":2,"y":0,"d":3},{"g":2,"y":0,"d":6},{"g":2,"y":0,"d":9},{"g":2,"y":0,"d":12},
      {"g":2,"y":0.016,"d":-1.5},{"g":2,"y":0.0225,"d":0},{"g":2,"y":0.026,"d":2},{"g":2,"y":0.027,"d":-1.5}
    ],
    "p4": [
      {"g":0,"y":0,"d":-15},{"g":0,"y":0,"d":-13.5},{"g":0,"y":0,"d":-12},{"g":0,"y":0,"d":-10.5},{"g":0,"y":0,"d":-9},{"g":0,"y":0,"d":-7.5},{"g":0,"y":0,"d":-6},{"g":0,"y":0,"d":-4.5},{"g":0,"y":0,"d":-3},{"g":0,"y":0,"d":-1.5},{"g":0,"y":0,"d":0},{"g":0,"y":0,"d":1.5},{"g":0,"y":0,"d":3},{"g":0,"y":0,"d":4.5},{"g":0,"y":0,"d":6},{"g":0,"y":0,"d":7.5},{"g":0,"y":0,"d":9},{"g":0,"y":0,"d":10.5},{"g":0,"y":0,"d":12},{"g":0,"y":0,"d":13.5},{"g":0,"y":0,"d":15},
      {"g":0,"y":0.006,"d":0},
      {"g":0,"y":0.009,"d":-1.5},{"g":0,"y":0.009,"d":1.5},
      {"g":0,"y":0.011,"d":0},
      {"g":0,"y":0.0125,"d":-4},{"g":0,"y":0.0125,"d":-1},{"g":0,"y":0.0125,"d":2},
      {"g":0,"y":0.0145,"d":-2.5},{"g":0,"y":0.0145,"d":0.5},{"g":0,"y":0.0145,"d":3.5},
      {"g":0,"y":0.0165,"d":-4},{"g":0,"y":0.0165,"d":-1},{"g":0,"y":0.0165,"d":2},{"g":0,"y":0.0165,"d":5},
      {"g":0,"y":0.019,"d":0},
      {"g":0,"y":0.0205,"d":-2},{"g":0,"y":0.0205,"d":2},
      {"g":0,"y":0.022,"d":-4.5},{"g":0,"y":0.022,"d":0},{"g":0,"y":0.022,"d":4.5},
      {"g":0,"y":0.0235,"d":-2},{"g":0,"y":0.0235,"d":2},
      {"g":0,"y":0.0265,"d":-3},{"g":0,"y":0.0265,"d":0},{"g":0,"y":0.0265,"d":3},
      {"g":0,"y":0.0295,"d":0},
      {"g":0,"y":0.031,"d":-2},{"g":0,"y":0.031,"d":2},
      {"g":0,"y":0.0335,"d":0},
      {"g":0,"y":0.035,"d":-2},{"g":0,"y":0.035,"d":2},
      {"g":0,"y":0.0365,"d":-4.5},{"g":0,"y":0.0365,"d":0},{"g":0,"y":0.0365,"d":4.5},
      {"g":0,"y":0.038,"d":-1.5},{"g":0,"y":0.038,"d":1.5},
      {"g":0,"y":0.0645,"d":0},
      {"g":1,"y":0,"d":-15},{"g":1,"y":0,"d":-13.5},{"g":1,"y":0,"d":-12},{"g":1,"y":0,"d":-10.5},{"g":1,"y":0,"d":-9},{"g":1,"y":0,"d":-7.5},{"g":1,"y":0,"d":-6},{"g":1,"y":0,"d":-4.5},{"g":1,"y":0,"d":-3},{"g":1,"y":0,"d":-1.5},{"g":1,"y":0,"d":0},{"g":1,"y":0,"d":1.5},{"g":1,"y":0,"d":3},{"g":1,"y":0,"d":4.5},{"g":1,"y":0,"d":6},{"g":1,"y":0,"d":7.5},{"g":1,"y":0,"d":9},{"g":1,"y":0,"d":10.5},{"g":1,"y":0,"d":12},{"g":1,"y":0,"d":13.5},{"g":1,"y":0,"d":15},
      {"g":1,"y":0.004,"d":0},
      {"g":1,"y":0.0055,"d":-1.5},{"g":1,"y":0.0055,"d":1.5},
      {"g":1,"y":0.007,"d":0},
      {"g":1,"y":0.0085,"d":-1.5},{"g":1,"y":0.0085,"d":1.5},
      {"g":1,"y":0.01,"d":0},
      {"g":1,"y":0.0115,"d":-1.5},{"g":1,"y":0.0115,"d":1.5},
      {"g":1,"y":0.013,"d":0},
      {"g":1,"y":0.0145,"d":-1.5},{"g":1,"y":0.0145,"d":1.5},
      {"g":1,"y":0.023,"d":0},
      {"g":2,"y":0,"d":-12},{"g":2,"y":0,"d":-9},{"g":2,"y":0,"d":-6},{"g":2,"y":0,"d":-3},{"g":2,"y":0,"d":0},{"g":2,"y":0,"d":3},{"g":2,"y":0,"d":6},{"g":2,"y":0,"d":9},{"g":2,"y":0,"d":12},
      {"g":2,"y":0.0155,"d":0},{"g":2,"y":0.0265,"d":0},{"g":2,"y":0.0635,"d":0}
    ],
    "p5": [
      {"g":0,"y":0,"d":-15},{"g":0,"y":0,"d":-13.5},{"g":0,"y":0,"d":-12},{"g":0,"y":0,"d":-10.5},{"g":0,"y":0,"d":-9},{"g":0,"y":0,"d":-7.5},{"g":0,"y":0,"d":-6},{"g":0,"y":0,"d":-4.5},{"g":0,"y":0,"d":-3},{"g":0,"y":0,"d":-1.5},{"g":0,"y":0,"d":0},{"g":0,"y":0,"d":1.5},{"g":0,"y":0,"d":3},{"g":0,"y":0,"d":4.5},{"g":0,"y":0,"d":6},{"g":0,"y":0,"d":7.5},{"g":0,"y":0,"d":9},{"g":0,"y":0,"d":10.5},{"g":0,"y":0,"d":12},{"g":0,"y":0,"d":13.5},{"g":0,"y":0,"d":15},
      {"g":0,"y":0.002,"d":-15},{"g":0,"y":0.002,"d":-12},{"g":0,"y":0.002,"d":-9},{"g":0,"y":0.002,"d":-6},{"g":0,"y":0.002,"d":-3},{"g":0,"y":0.002,"d":0},{"g":0,"y":0.002,"d":3},{"g":0,"y":0.002,"d":6},{"g":0,"y":0.002,"d":9},{"g":0,"y":0.002,"d":12},{"g":0,"y":0.002,"d":15},
      {"g":0,"y":0.0045,"d":-13.5},{"g":0,"y":0.0045,"d":-10.5},{"g":0,"y":0.0045,"d":-7.5},{"g":0,"y":0.0045,"d":-4.5},{"g":0,"y":0.0045,"d":-1.5},{"g":0,"y":0.0045,"d":1.5},{"g":0,"y":0.0045,"d":4.5},{"g":0,"y":0.0045,"d":7.5},{"g":0,"y":0.0045,"d":10.5},{"g":0,"y":0.0045,"d":13.5},
      {"g":0,"y":0.007,"d":-12},{"g":0,"y":0.007,"d":-9},{"g":0,"y":0.007,"d":-6},{"g":0,"y":0.007,"d":-3},{"g":0,"y":0.007,"d":0},{"g":0,"y":0.007,"d":3},{"g":0,"y":0.007,"d":6},{"g":0,"y":0.007,"d":9},{"g":0,"y":0.007,"d":12},
      {"g":0,"y":0.0095,"d":-10.5},{"g":0,"y":0.0095,"d":-7.5},{"g":0,"y":0.0095,"d":-4.5},{"g":0,"y":0.0095,"d":-1.5},{"g":0,"y":0.0095,"d":1.5},{"g":0,"y":0.0095,"d":4.5},{"g":0,"y":0.0095,"d":7.5},{"g":0,"y":0.0095,"d":10.5},
      {"g":0,"y":0.012,"d":-12},{"g":0,"y":0.012,"d":-9},{"g":0,"y":0.012,"d":-6},{"g":0,"y":0.012,"d":-3},{"g":0,"y":0.012,"d":0},{"g":0,"y":0.012,"d":3},{"g":0,"y":0.012,"d":6},{"g":0,"y":0.012,"d":9},{"g":0,"y":0.012,"d":12},
      {"g":0,"y":0.0145,"d":-10.5},{"g":0,"y":0.0145,"d":-7.5},{"g":0,"y":0.0145,"d":-4.5},{"g":0,"y":0.0145,"d":-1.5},{"g":0,"y":0.0145,"d":1.5},{"g":0,"y":0.0145,"d":4.5},{"g":0,"y":0.0145,"d":7.5},{"g":0,"y":0.0145,"d":10.5},
      {"g":0,"y":0.017,"d":-9},{"g":0,"y":0.017,"d":-6},{"g":0,"y":0.017,"d":-3},{"g":0,"y":0.017,"d":0},{"g":0,"y":0.017,"d":3},{"g":0,"y":0.017,"d":6},{"g":0,"y":0.017,"d":9},
      {"g":0,"y":0.0195,"d":-7.5},{"g":0,"y":0.0195,"d":-4.5},{"g":0,"y":0.0195,"d":-1.5},{"g":0,"y":0.0195,"d":1.5},{"g":0,"y":0.0195,"d":4.5},{"g":0,"y":0.0195,"d":7.5},
      {"g":0,"y":0.022,"d":-6},{"g":0,"y":0.022,"d":-3},{"g":0,"y":0.022,"d":0},{"g":0,"y":0.022,"d":3},{"g":0,"y":0.022,"d":6},
      {"g":0,"y":0.0245,"d":-7.5},{"g":0,"y":0.0245,"d":-4.5},{"g":0,"y":0.0245,"d":-1.5},{"g":0,"y":0.0245,"d":1.5},{"g":0,"y":0.0245,"d":4.5},{"g":0,"y":0.0245,"d":7.5},
      {"g":0,"y":0.027,"d":-6},{"g":0,"y":0.027,"d":-3},{"g":0,"y":0.027,"d":0},{"g":0,"y":0.027,"d":3},{"g":0,"y":0.027,"d":6},
      {"g":0,"y":0.0295,"d":-4.5},{"g":0,"y":0.0295,"d":-1.5},{"g":0,"y":0.0295,"d":1.5},{"g":0,"y":0.0295,"d":4.5},
      {"g":0,"y":0.032,"d":-6},{"g":0,"y":0.032,"d":-3},{"g":0,"y":0.032,"d":0},{"g":0,"y":0.032,"d":3},{"g":0,"y":0.032,"d":6},
      {"g":0,"y":0.0345,"d":-4.5},{"g":0,"y":0.0345,"d":-1.5},{"g":0,"y":0.0345,"d":1.5},{"g":0,"y":0.0345,"d":4.5},
      {"g":0,"y":0.037,"d":-3},{"g":0,"y":0.037,"d":0},{"g":0,"y":0.037,"d":3},
      {"g":0,"y":0.0395,"d":-4.5},{"g":0,"y":0.0395,"d":-1.5},{"g":0,"y":0.0395,"d":1.5},{"g":0,"y":0.0395,"d":4.5},
      {"g":0,"y":0.042,"d":-3},{"g":0,"y":0.042,"d":0},{"g":0,"y":0.042,"d":3},
      {"g":0,"y":0.0445,"d":-1.5},{"g":0,"y":0.0445,"d":1.5},
      {"g":0,"y":0.047,"d":-3},{"g":0,"y":0.047,"d":0},{"g":0,"y":0.047,"d":3},
      {"g":0,"y":0.0495,"d":-1.5},{"g":0,"y":0.0495,"d":1.5},
      {"g":0,"y":0.052,"d":0},
      {"g":0,"y":0.0545,"d":-1.5},{"g":0,"y":0.0545,"d":1.5},
      {"g":0,"y":0.057,"d":0},
      {"g":1,"y":0,"d":-15},{"g":1,"y":0,"d":-13.5},{"g":1,"y":0,"d":-12},{"g":1,"y":0,"d":-10.5},{"g":1,"y":0,"d":-9},{"g":1,"y":0,"d":-7.5},{"g":1,"y":0,"d":-6},{"g":1,"y":0,"d":-4.5},{"g":1,"y":0,"d":-3},{"g":1,"y":0,"d":-1.5},{"g":1,"y":0,"d":0},{"g":1,"y":0,"d":1.5},{"g":1,"y":0,"d":3},{"g":1,"y":0,"d":4.5},{"g":1,"y":0,"d":6},{"g":1,"y":0,"d":7.5},{"g":1,"y":0,"d":9},{"g":1,"y":0,"d":10.5},{"g":1,"y":0,"d":12},{"g":1,"y":0,"d":13.5},{"g":1,"y":0,"d":15},
      {"g":1,"y":0.003,"d":-15},{"g":1,"y":0.003,"d":-12},{"g":1,"y":0.003,"d":-9},{"g":1,"y":0.003,"d":-6},{"g":1,"y":0.003,"d":-3},{"g":1,"y":0.003,"d":0},{"g":1,"y":0.003,"d":3},{"g":1,"y":0.003,"d":6},{"g":1,"y":0.003,"d":9},{"g":1,"y":0.003,"d":12},{"g":1,"y":0.003,"d":15},
      {"g":1,"y":0.0055,"d":-13.5},{"g":1,"y":0.0055,"d":-10.5},{"g":1,"y":0.0055,"d":-7.5},{"g":1,"y":0.0055,"d":-4.5},{"g":1,"y":0.0055,"d":-1.5},{"g":1,"y":0.0055,"d":1.5},{"g":1,"y":0.0055,"d":4.5},{"g":1,"y":0.0055,"d":7.5},{"g":1,"y":0.0055,"d":10.5},{"g":1,"y":0.0055,"d":13.5},
      {"g":1,"y":0.008,"d":-15},{"g":1,"y":0.008,"d":-12},{"g":1,"y":0.008,"d":-9},{"g":1,"y":0.008,"d":-6},{"g":1,"y":0.008,"d":-3},{"g":1,"y":0.008,"d":0},{"g":1,"y":0.008,"d":3},{"g":1,"y":0.008,"d":6},{"g":1,"y":0.008,"d":9},{"g":1,"y":0.008,"d":12},{"g":1,"y":0.008,"d":15},
      {"g":1,"y":0.0105,"d":-13.5},{"g":1,"y":0.0105,"d":-10.5},{"g":1,"y":0.0105,"d":-7.5},{"g":1,"y":0.0105,"d":-4.5},{"g":1,"y":0.0105,"d":-1.5},{"g":1,"y":0.0105,"d":1.5},{"g":1,"y":0.0105,"d":4.5},{"g":1,"y":0.0105,"d":7.5},{"g":1,"y":0.0105,"d":10.5},{"g":1,"y":0.0105,"d":13.5},
      {"g":1,"y":0.013,"d":-12},{"g":1,"y":0.013,"d":-9},{"g":1,"y":0.013,"d":-6},{"g":1,"y":0.013,"d":-3},{"g":1,"y":0.013,"d":0},{"g":1,"y":0.013,"d":3},{"g":1,"y":0.013,"d":6},{"g":1,"y":0.013,"d":9},{"g":1,"y":0.013,"d":12},
      {"g":1,"y":0.0155,"d":-13.5},{"g":1,"y":0.0155,"d":-10.5},{"g":1,"y":0.0155,"d":-7.5},{"g":1,"y":0.0155,"d":-4.5},{"g":1,"y":0.0155,"d":-1.5},{"g":1,"y":0.0155,"d":1.5},{"g":1,"y":0.0155,"d":4.5},{"g":1,"y":0.0155,"d":7.5},{"g":1,"y":0.0155,"d":10.5},{"g":1,"y":0.0155,"d":13.5},
      {"g":1,"y":0.018,"d":-12},{"g":1,"y":0.018,"d":-9},{"g":1,"y":0.018,"d":-6},{"g":1,"y":0.018,"d":-3},{"g":1,"y":0.018,"d":0},{"g":1,"y":0.018,"d":3},{"g":1,"y":0.018,"d":6},{"g":1,"y":0.018,"d":9},{"g":1,"y":0.018,"d":12},
      {"g":1,"y":0.0205,"d":-10.5},{"g":1,"y":0.0205,"d":-7.5},{"g":1,"y":0.0205,"d":-4.5},{"g":1,"y":0.0205,"d":-1.5},{"g":1,"y":0.0205,"d":1.5},{"g":1,"y":0.0205,"d":4.5},{"g":1,"y":0.0205,"d":7.5},{"g":1,"y":0.0205,"d":10.5},
      {"g":1,"y":0.023,"d":-9},{"g":1,"y":0.023,"d":-6},{"g":1,"y":0.023,"d":-3},{"g":1,"y":0.023,"d":0},{"g":1,"y":0.023,"d":3},{"g":1,"y":0.023,"d":6},{"g":1,"y":0.023,"d":9},
      {"g":1,"y":0.0255,"d":-10.5},{"g":1,"y":0.0255,"d":-7.5},{"g":1,"y":0.0255,"d":-4.5},{"g":1,"y":0.0255,"d":-1.5},{"g":1,"y":0.0255,"d":1.5},{"g":1,"y":0.0255,"d":4.5},{"g":1,"y":0.0255,"d":7.5},{"g":1,"y":0.0255,"d":10.5},
      {"g":1,"y":0.028,"d":-9},{"g":1,"y":0.028,"d":-6},{"g":1,"y":0.028,"d":-3},{"g":1,"y":0.028,"d":0},{"g":1,"y":0.028,"d":3},{"g":1,"y":0.028,"d":6},{"g":1,"y":0.028,"d":9},
      {"g":1,"y":0.0305,"d":-7.5},{"g":1,"y":0.0305,"d":-4.5},{"g":1,"y":0.0305,"d":-1.5},{"g":1,"y":0.0305,"d":1.5},{"g":1,"y":0.0305,"d":4.5},{"g":1,"y":0.0305,"d":7.5},
      {"g":1,"y":0.033,"d":-6},{"g":1,"y":0.033,"d":-3},{"g":1,"y":0.033,"d":0},{"g":1,"y":0.033,"d":3},{"g":1,"y":0.033,"d":6},
      {"g":1,"y":0.0355,"d":-7.5},{"g":1,"y":0.0355,"d":-4.5},{"g":1,"y":0.0355,"d":-1.5},{"g":1,"y":0.0355,"d":1.5},{"g":1,"y":0.0355,"d":4.5},{"g":1,"y":0.0355,"d":7.5},
      {"g":1,"y":0.038,"d":-6},{"g":1,"y":0.038,"d":-3},{"g":1,"y":0.038,"d":0},{"g":1,"y":0.038,"d":3},{"g":1,"y":0.038,"d":6},
      {"g":1,"y":0.0405,"d":-4.5},{"g":1,"y":0.0405,"d":-1.5},{"g":1,"y":0.0405,"d":1.5},{"g":1,"y":0.0405,"d":4.5},
      {"g":1,"y":0.043,"d":-3},{"g":1,"y":0.043,"d":0},{"g":1,"y":0.043,"d":3},
      {"g":1,"y":0.0455,"d":-4.5},{"g":1,"y":0.0455,"d":-1.5},{"g":1,"y":0.0455,"d":1.5},{"g":1,"y":0.0455,"d":4.5},
      {"g":1,"y":0.048,"d":-3},{"g":1,"y":0.048,"d":0},{"g":1,"y":0.048,"d":3},
      {"g":1,"y":0.0505,"d":-1.5},{"g":1,"y":0.0505,"d":1.5},
      {"g":1,"y":0.053,"d":0},
      {"g":1,"y":0.0555,"d":-1.5},{"g":1,"y":0.0555,"d":1.5},
      {"g":1,"y":0.065,"d":0},{"g":1,"y":0.0707,"d":0},{"g":1,"y":0.078,"d":0},{"g":1,"y":0.0838,"d":0},{"g":1,"y":0.116,"d":0},
      {"g":2,"y":0,"d":-14},{"g":2,"y":0,"d":-12},{"g":2,"y":0,"d":-10},{"g":2,"y":0,"d":-8},{"g":2,"y":0,"d":-6},{"g":2,"y":0,"d":-4},{"g":2,"y":0,"d":-2},{"g":2,"y":0,"d":0},{"g":2,"y":0,"d":2},{"g":2,"y":0,"d":4},{"g":2,"y":0,"d":6},{"g":2,"y":0,"d":8},{"g":2,"y":0,"d":10},{"g":2,"y":0,"d":12},{"g":2,"y":0,"d":14},
      {"g":2,"y":0.004,"d":-4.5},{"g":2,"y":0.004,"d":-1.5},{"g":2,"y":0.004,"d":1.5},{"g":2,"y":0.004,"d":4.5},
      {"g":2,"y":0.007,"d":-3},{"g":2,"y":0.007,"d":0},{"g":2,"y":0.007,"d":3},
      {"g":2,"y":0.01,"d":-4.5},{"g":2,"y":0.01,"d":-1.5},{"g":2,"y":0.01,"d":1.5},{"g":2,"y":0.01,"d":4.5},
      {"g":2,"y":0.013,"d":-6},{"g":2,"y":0.013,"d":-3},{"g":2,"y":0.013,"d":0},{"g":2,"y":0.013,"d":3},{"g":2,"y":0.013,"d":6},
      {"g":2,"y":0.016,"d":-4.5},{"g":2,"y":0.016,"d":-1.5},{"g":2,"y":0.016,"d":1.5},{"g":2,"y":0.016,"d":4.5},
      {"g":2,"y":0.019,"d":-3},{"g":2,"y":0.019,"d":0},{"g":2,"y":0.019,"d":3},
      {"g":2,"y":0.022,"d":-1.5},{"g":2,"y":0.022,"d":1.5},
      {"g":2,"y":0.025,"d":-3},{"g":2,"y":0.025,"d":0},{"g":2,"y":0.025,"d":3},
      {"g":2,"y":0.028,"d":-1.5},{"g":2,"y":0.028,"d":1.5},
      {"g":2,"y":0.031,"d":0},
      {"g":2,"y":0.034,"d":-1.5},{"g":2,"y":0.034,"d":1.5},
      {"g":2,"y":0.037,"d":0},{"g":2,"y":0.0733,"d":0},{"g":2,"y":0.078,"d":0},{"g":2,"y":0.091,"d":0}
    ],
    "p6": [
      {"g":0,"y":0,"d":-15},{"g":0,"y":0,"d":-13.5},{"g":0,"y":0,"d":-12},{"g":0,"y":0,"d":-10.5},{"g":0,"y":0,"d":-9},{"g":0,"y":0,"d":-7.5},{"g":0,"y":0,"d":-6},{"g":0,"y":0,"d":-4.5},{"g":0,"y":0,"d":-3},{"g":0,"y":0,"d":-1.5},{"g":0,"y":0,"d":0},{"g":0,"y":0,"d":1.5},{"g":0,"y":0,"d":3},{"g":0,"y":0,"d":4.5},{"g":0,"y":0,"d":6},{"g":0,"y":0,"d":7.5},{"g":0,"y":0,"d":9},{"g":0,"y":0,"d":10.5},{"g":0,"y":0,"d":12},{"g":0,"y":0,"d":13.5},{"g":0,"y":0,"d":15},
      {"g":0,"y":0.005,"d":0},{"g":0,"y":0.009,"d":0},{"g":0,"y":0.013,"d":0},{"g":0,"y":0.0165,"d":-1},{"g":0,"y":0.0195,"d":0},
      {"g":0,"y":0.031,"d":-2},{"g":0,"y":0.0325,"d":3.5},{"g":0,"y":0.0335,"d":0},{"g":0,"y":0.0345,"d":-4.5},
      {"g":0,"y":0.0422,"d":-1},{"g":0,"y":0.0435,"d":1.5},{"g":0,"y":0.0455,"d":-1.5},
      {"g":0,"y":0.0591,"d":0},{"g":0,"y":0.064,"d":0},{"g":0,"y":0.0715,"d":0},{"g":0,"y":0.0806,"d":-1},{"g":0,"y":0.083,"d":1},{"g":0,"y":0.098,"d":0},
      {"g":1,"y":0,"d":-15},{"g":1,"y":0,"d":-13.5},{"g":1,"y":0,"d":-12},{"g":1,"y":0,"d":-10.5},{"g":1,"y":0,"d":-9},{"g":1,"y":0,"d":-7.5},{"g":1,"y":0,"d":-6},{"g":1,"y":0,"d":-4.5},{"g":1,"y":0,"d":-3},{"g":1,"y":0,"d":-1.5},{"g":1,"y":0,"d":0},{"g":1,"y":0,"d":1.5},{"g":1,"y":0,"d":3},{"g":1,"y":0,"d":4.5},{"g":1,"y":0,"d":6},{"g":1,"y":0,"d":7.5},{"g":1,"y":0,"d":9},{"g":1,"y":0,"d":10.5},{"g":1,"y":0,"d":12},{"g":1,"y":0,"d":13.5},{"g":1,"y":0,"d":15},
      {"g":1,"y":0.003,"d":-2.5},{"g":1,"y":0.003,"d":2.5},
      {"g":1,"y":0.0045,"d":-5},{"g":1,"y":0.0045,"d":0},{"g":1,"y":0.0045,"d":5},
      {"g":1,"y":0.0065,"d":-1.5},{"g":1,"y":0.0065,"d":1.5},
      {"g":1,"y":0.011,"d":0},{"g":1,"y":0.0145,"d":0},{"g":1,"y":0.018,"d":0},
      {"g":1,"y":0.021,"d":-1.5},{"g":1,"y":0.021,"d":1.5},
      {"g":1,"y":0.0235,"d":0},
      {"g":1,"y":0.027,"d":-1.5},{"g":1,"y":0.027,"d":1.5},
      {"g":1,"y":0.0305,"d":-2},{"g":1,"y":0.0305,"d":2},
      {"g":1,"y":0.0325,"d":-5},{"g":1,"y":0.0325,"d":0},{"g":1,"y":0.0325,"d":5},
      {"g":1,"y":0.0345,"d":-3},{"g":1,"y":0.0345,"d":3},
      {"g":1,"y":0.037,"d":0},{"g":1,"y":0.042,"d":0},
      {"g":1,"y":0.0445,"d":-1.5},{"g":1,"y":0.0445,"d":1.5},
      {"g":1,"y":0.0465,"d":0},
      {"g":1,"y":0.049,"d":-2.5},{"g":1,"y":0.049,"d":2.5},
      {"g":1,"y":0.052,"d":-5},{"g":1,"y":0.052,"d":0},{"g":1,"y":0.052,"d":5},
      {"g":1,"y":0.0555,"d":-2},{"g":1,"y":0.0555,"d":2},
      {"g":1,"y":0.0585,"d":0},
      {"g":1,"y":0.0645,"d":-6},{"g":1,"y":0.0645,"d":6},
      {"g":1,"y":0.066,"d":-4},{"g":1,"y":0.066,"d":0},{"g":1,"y":0.066,"d":4},
      {"g":1,"y":0.0708,"d":0},
      {"g":1,"y":0.099,"d":0},{"g":1,"y":0.1005,"d":1.5},{"g":1,"y":0.1025,"d":-1.5},
      {"g":2,"y":0,"d":-13.5},{"g":2,"y":0,"d":-12},{"g":2,"y":0,"d":-10.5},{"g":2,"y":0,"d":-9},{"g":2,"y":0,"d":-7.5},{"g":2,"y":0,"d":-6},{"g":2,"y":0,"d":-4.5},{"g":2,"y":0,"d":-3},{"g":2,"y":0,"d":-1.5},{"g":2,"y":0,"d":0},{"g":2,"y":0,"d":1.5},{"g":2,"y":0,"d":3},{"g":2,"y":0,"d":4.5},{"g":2,"y":0,"d":6},{"g":2,"y":0,"d":7.5},{"g":2,"y":0,"d":9},{"g":2,"y":0,"d":10.5},{"g":2,"y":0,"d":12},{"g":2,"y":0,"d":13.5},
      {"g":2,"y":0.0035,"d":-2},{"g":2,"y":0.0035,"d":2},
      {"g":2,"y":0.006,"d":-5},{"g":2,"y":0.006,"d":0},{"g":2,"y":0.006,"d":5},
      {"g":2,"y":0.0085,"d":-2.5},{"g":2,"y":0.0085,"d":2.5},
      {"g":2,"y":0.011,"d":-5},{"g":2,"y":0.011,"d":0},{"g":2,"y":0.011,"d":5},
      {"g":2,"y":0.0135,"d":-2},{"g":2,"y":0.0135,"d":2},
      {"g":2,"y":0.016,"d":-4.5},{"g":2,"y":0.016,"d":0},{"g":2,"y":0.016,"d":4.5},
      {"g":2,"y":0.0185,"d":-1.5},{"g":2,"y":0.0185,"d":1.5},
      {"g":2,"y":0.021,"d":-3},{"g":2,"y":0.021,"d":3},
      {"g":2,"y":0.0235,"d":0},
      {"g":2,"y":0.026,"d":-2},{"g":2,"y":0.026,"d":2},
      {"g":2,"y":0.0285,"d":0},
      {"g":2,"y":0.031,"d":-3},{"g":2,"y":0.031,"d":3},
      {"g":2,"y":0.0335,"d":1.5},{"g":2,"y":0.0355,"d":-1.5},
      {"g":2,"y":0.041,"d":0},{"g":2,"y":0.0455,"d":1},{"g":2,"y":0.048,"d":0},
      {"g":2,"y":0.0595,"d":0},{"g":2,"y":0.0625,"d":1.5},{"g":2,"y":0.065,"d":-1.5},{"g":2,"y":0.0676,"d":0},{"g":2,"y":0.0839,"d":0}
    ]
  },
  "concat": [
    {
      "data": {"name": "p1"},
      "width": 115, "height": 114,
      "mark": {"type": "circle"},
      "encoding": {
        "x": {"field": "g", "type": "ordinal", "scale": {"type": "point", "padding": 0.65}, "axis": {"title": "IL12B"}},
        "xOffset": {"field": "d", "type": "quantitative", "scale": {"domain": [-20, 20], "range": [-20, 20]}},
        "y": {"field": "y", "type": "quantitative", "scale": {"domain": [-0.012, 0.31], "nice": false, "zero": false}, "axis": {"values": [0, 0.05, 0.1, 0.15, 0.2, 0.25, 0.3], "format": ".2f", "title": "Deltaproteobacteria"}},
        "color": {"field": "g", "type": "nominal", "scale": {"domain": [0, 1, 2], "range": ["#E41A1C", "#377EB8", "#4DAF4A"]}, "legend": null},
        "opacity": {"condition": {"test": "datum.y == 0 && datum.g < 2", "value": 0.85}, "value": 0.5}
      }
    },
    {
      "data": {"name": "p2"},
      "width": 120, "height": 114,
      "mark": {"type": "circle"},
      "encoding": {
        "x": {"field": "g", "type": "ordinal", "scale": {"type": "point", "padding": 0.65}, "axis": {"title": "PTPN2"}},
        "xOffset": {"field": "d", "type": "quantitative", "scale": {"domain": [-20, 20], "range": [-18, 18]}},
        "y": {"field": "y", "type": "quantitative", "scale": {"domain": [-0.015, 1.37], "nice": false, "zero": false}, "axis": {"values": [0, 0.2, 0.4, 0.6, 0.8, 1.0, 1.2], "format": ".1f", "title": "Alphaproteobacteria"}},
        "color": {"field": "g", "type": "nominal", "scale": {"domain": [0, 1, 2], "range": ["#E41A1C", "#377EB8", "#4DAF4A"]}, "legend": null},
        "opacity": {"value": 0.5}
      }
    },
    {
      "data": {"name": "p3"},
      "width": 120, "height": 114,
      "mark": {"type": "circle"},
      "encoding": {
        "x": {"field": "g", "type": "ordinal", "scale": {"type": "point", "padding": 0.65}, "axis": {"title": "IL12B"}},
        "xOffset": {"field": "d", "type": "quantitative", "scale": {"domain": [-20, 20], "range": [-20, 20]}},
        "y": {"field": "y", "type": "quantitative", "scale": {"domain": [-0.0056, 0.142], "nice": false, "zero": false}, "axis": {"values": [0, 0.02, 0.04, 0.06, 0.08, 0.1, 0.12, 0.14], "format": ".2f", "labelExpr": "indexof(['0.00','0.04','0.08','0.12'], datum.label) >= 0 ? datum.label : ''", "title": "Desulfovibrionaceae"}},
        "color": {"field": "g", "type": "nominal", "scale": {"domain": [0, 1, 2], "range": ["#E41A1C", "#377EB8", "#4DAF4A"]}, "legend": null},
        "opacity": {"condition": {"test": "datum.y == 0 && datum.g < 2", "value": 0.85}, "value": 0.5}
      }
    },
    {
      "data": {"name": "p4"},
      "width": 115, "height": 114,
      "mark": {"type": "circle"},
      "encoding": {
        "x": {"field": "g", "type": "ordinal", "scale": {"type": "point", "padding": 0.65}, "axis": {"title": "IL12B"}},
        "xOffset": {"field": "d", "type": "quantitative", "scale": {"domain": [-20, 20], "range": [-20, 20]}},
        "y": {"field": "y", "type": "quantitative", "scale": {"domain": [-0.0035, 0.0675], "nice": false, "zero": false}, "axis": {"values": [0, 0.01, 0.02, 0.03, 0.04, 0.05, 0.06], "format": ".2f", "title": "Desulfovibrionales"}},
        "color": {"field": "g", "type": "nominal", "scale": {"domain": [0, 1, 2], "range": ["#E41A1C", "#377EB8", "#4DAF4A"]}, "legend": null},
        "opacity": {"condition": {"test": "datum.y == 0 && datum.g < 2", "value": 0.85}, "value": 0.5}
      }
    },
    {
      "data": {"name": "p5"},
      "width": 120, "height": 114,
      "mark": {"type": "circle"},
      "encoding": {
        "x": {"field": "g", "type": "ordinal", "scale": {"type": "point", "padding": 0.65}, "axis": {"title": "PTPN2"}},
        "xOffset": {"field": "d", "type": "quantitative", "scale": {"domain": [-20, 20], "range": [-20, 20]}},
        "y": {"field": "y", "type": "quantitative", "scale": {"domain": [-0.0055, 0.1205], "nice": false, "zero": false}, "axis": {"values": [0, 0.02, 0.04, 0.06, 0.08, 0.1, 0.12], "format": ".2f", "title": "Collinsella aerofaciens"}},
        "color": {"field": "g", "type": "nominal", "scale": {"domain": [0, 1, 2], "range": ["#E41A1C", "#377EB8", "#4DAF4A"]}, "legend": null},
        "opacity": {"condition": {"test": "datum.y == 0 && datum.g < 2", "value": 0.85}, "value": 0.5}
      }
    },
    {
      "data": {"name": "p6"},
      "width": 120, "height": 114,
      "mark": {"type": "circle"},
      "encoding": {
        "x": {"field": "g", "type": "ordinal", "scale": {"type": "point", "padding": 0.65}, "axis": {"title": "TAB1"}},
        "xOffset": {"field": "d", "type": "quantitative", "scale": {"domain": [-20, 20], "range": [-20, 20]}},
        "y": {"field": "y", "type": "quantitative", "scale": {"domain": [-0.0055, 0.107], "nice": false, "zero": false}, "axis": {"values": [0, 0.02, 0.04, 0.06, 0.08, 0.1], "format": ".2f", "title": "Lactobacillus"}},
        "color": {"field": "g", "type": "nominal", "scale": {"domain": [0, 1, 2], "range": ["#E41A1C", "#377EB8", "#4DAF4A"]}, "legend": null},
        "opacity": {"condition": {"test": "datum.y == 0", "value": 0.85}, "value": 0.5}
      }
    }
  ]
}
